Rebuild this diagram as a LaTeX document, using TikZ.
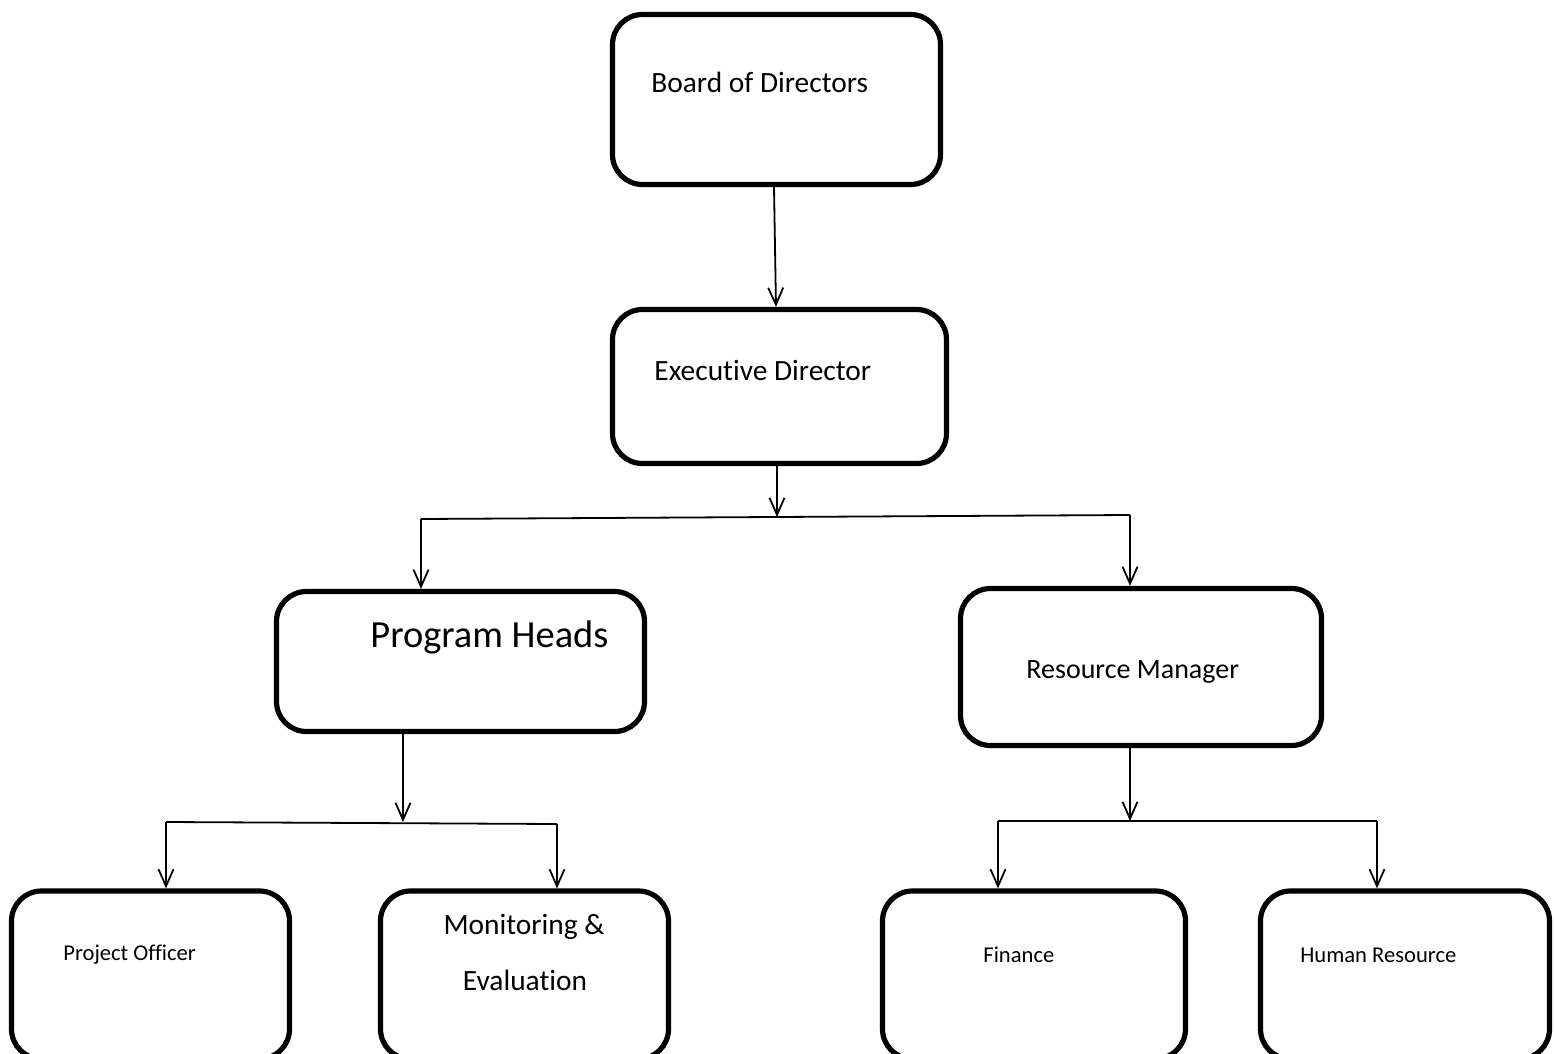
\documentclass[tikz,border=0pt]{standalone}
\usepackage{fontspec}
\setmainfont{Carlito}[Ligatures=NoCommon]
\usetikzlibrary{arrows.meta}
\begin{document}
\begin{tikzpicture}[x=0.5pt,y=-0.5pt,
  box/.style={draw,line width=2.6pt,rounded corners=15pt,inner sep=0pt,fill=white},
  lbl/.style={anchor=west,inner sep=0pt},
  clbl/.style={anchor=center,inner sep=0pt},
  conn/.style={line width=0.9pt},
  arr/.style={conn,-{Straight Barb[length=8.5pt,width=7.5pt,line width=0.9pt]}}]
\useasboundingbox (0,0) rectangle (1554,1054);
\clip (0,0) rectangle (1554,1054);
\fill[white] (0,0) rectangle (1554,1054);
% boxes
\node[box,minimum width=164pt,minimum height=85pt] (bod) at (776.5,99.5) {};
\node[box,minimum width=167pt,minimum height=77pt] (ed) at (779.5,386.5) {};
\node[box,minimum width=184pt,minimum height=70pt] (ph) at (460.5,661.5) {};
\node[box,minimum width=180.5pt,minimum height=78.5pt] (rm) at (1141,667) {};
\node[box,minimum width=139pt,minimum height=84pt] (po) at (150.5,975) {};
\node[box,minimum width=144pt,minimum height=84pt] (me) at (524.5,975) {};
\node[box,minimum width=151.5pt,minimum height=84pt] (fin) at (1034,975) {};
\node[box,minimum width=144.5pt,minimum height=84pt] (hr) at (1405,975) {};
% texts
\node[lbl] (bodt) at (651,82) {\fontsize{14.7}{17}\selectfont Board of Directors};
\node[lbl] (edt) at (654,370) {\fontsize{14.7}{17}\selectfont Executive Director};
\node[lbl] (pht) at (370,637) {\fontsize{19.2}{22}\selectfont Program Heads};
\node[lbl] (rmt) at (1026,672) {\fontsize{14}{17}\selectfont Resource Manager};
\node[lbl] (pot) at (63,955) {\fontsize{11.3}{13}\selectfont Project Officer};
\node[clbl] (met1) at (524,927) {\fontsize{14.7}{17}\selectfont Monitoring \&};
\node[clbl] (met2) at (525,980) {\fontsize{14.7}{17}\selectfont Evaluation};
\node[lbl] (fint) at (983,955) {\fontsize{11.3}{13}\selectfont Finance};
\node[lbl] (hrt) at (1300,955) {\fontsize{11.3}{13}\selectfont Human Resource};
% junction points
\coordinate (t1) at (774,0);
\coordinate (t2) at (776,0);
\coordinate (ja) at (777,517);
\coordinate (jal) at (421,519);
\coordinate (jar) at (1130,515);
\coordinate (jb) at (403,822);
\coordinate (jbl) at (166,822);
\coordinate (jbr) at (557,824);
\coordinate (jc) at (1130,821);
\coordinate (jcl) at (998,821);
\coordinate (jcr) at (1377,821);
% connectors
\draw[arr] (t1 |- bod.south) -- (t2 |- ed.north);
\draw[arr] (ja |- ed.south) -- (ja);
\draw[conn] (jal) -- (jar);
\draw[arr] (jal) -- (jal |- ph.north);
\draw[arr] (jar) -- (jar |- rm.north);
\draw[arr] (jb |- ph.south) -- (jb);
\draw[conn] (jbl) -- (jbr);
\draw[arr] (jbl) -- (jbl |- po.north);
\draw[arr] (jbr) -- (jbr |- me.north);
\draw[arr] (jc |- rm.south) -- (jc);
\draw[conn] (jcl) -- (jcr);
\draw[arr] (jcl) -- (jcl |- fin.north);
\draw[arr] (jcr) -- (jcr |- hr.north);
\end{tikzpicture}
\end{document}
